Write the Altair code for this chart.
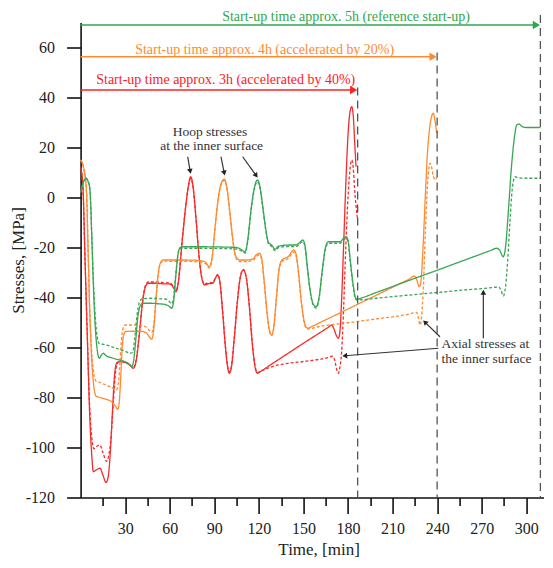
import math
import altair as alt
import pandas as pd

# ---------------- data ----------------
# Hoop stresses (solid) and axial stresses (dashed) at the inner surface
red_hoop_t = [0, 1.5, 3, 4.5, 6, 7.5, 8.6, 10.5, 13, 15, 17.1, 18.5, 20, 21.5, 23, 24.5, 26.5, 30, 33, 35.5,
              37.5, 39.5, 41.5, 43.5, 45.5, 50, 55, 60, 62.5, 64.2, 66, 68, 70.5, 72.5, 74.1, 75.8, 77.5, 79.5,
              81.5, 83.5, 86, 89, 91, 92.3, 93.8, 95.5, 97.5, 99, 100.1, 101.5, 103.5, 105.5, 107.5, 109.5,
              111.5, 113.5, 115.5, 117.5, 119, 121, 130, 140, 150, 160, 167, 169, 170.5, 172, 173.5, 174.5,
              175.7, 177, 178.5, 180, 181.3, 182.5, 183.5, 184.5, 185.4]
red_hoop_s = [12, 5, -25, -55, -85, -103, -109.7, -109, -108.3, -111, -114, -112, -102, -85, -70, -66, -65.7, -66,
              -67, -68.3, -65, -55, -43, -36, -34.3, -34.3, -34.5, -34.6, -36, -37.7, -33, -20, -5, 4.5, 8.3, 4,
              -7, -22, -32, -35, -34.5, -34.3, -32, -31, -34, -45, -60, -68, -70.3, -68, -56, -42, -32, -29, -32,
              -43, -58, -68, -70.3, -69.6, -66.1, -62.2, -58.3, -54.5, -51.8, -51, -52.5, -55, -56.3, -54, -41,
              -20, 5, 25, 34, 36.3, 33, 22, 12.3]

red_axial_t = [0, 1.5, 3, 4.5, 6, 7.5, 9, 11, 13, 15, 17.5, 19, 20.5, 22, 23.5, 25, 26.5, 30, 33, 35.5,
               37.5, 39.5, 41.5, 43.5, 45.5, 50, 55, 60, 62.5, 64.2, 66, 68, 70.5, 72.5, 74.1, 75.8, 77.5, 79.5,
               81.5, 83.5, 86, 89, 91, 92.3, 93.8, 95.5, 97.5, 99, 100.1, 101.5, 103.5, 105.5, 107.5, 109.5,
               111.5, 113.5, 115.5, 117.5, 119, 121, 130, 140, 150, 160, 167, 169.5, 171, 172.5, 173.5, 174.5,
               175.7, 177, 178.5, 180, 181.3, 182.5, 183.5, 184.5, 186.3]
red_axial_s = [12, 5, -25, -55, -82, -96, -100.5, -99.5, -99, -102, -105.5, -103, -96, -82, -70, -66, -65.5, -65.8,
               -66.8, -68, -64.5, -54.5, -42.5, -35.5, -33.8, -33.8, -34, -34.2, -35.6, -37.3, -32.5, -19.5, -4.8,
               4, 7.6, 3.5, -7.2, -22, -31.8, -34.6, -34.2, -34, -31.8, -30.8, -33.8, -44.5, -59.5, -67.5, -69.8,
               -67.6, -55.6, -41.8, -31.8, -28.8, -31.8, -42.6, -57.6, -67.5, -70, -69.5, -67.5, -66.3, -65.6,
               -64.8, -64, -63.5, -65, -69, -70.3, -68, -62, -45, -20, 0, 11, 15, 12, 3, -8.3]

orange_hoop_t = [0, 2, 4, 5, 6.3, 7.5, 9, 10.5, 12, 16, 21, 23.5, 25, 26, 27, 28, 29, 30.5, 35, 40, 44, 46,
                 47.8, 49.2, 50.5, 52, 53.5, 55.5, 60, 70, 80, 84, 86.6, 88.5, 90.5, 92.5, 94.5, 96.7, 98.5,
                 100.5, 102.5, 104.5, 107, 112, 116, 118.5, 120.3, 121.8, 123.5, 125.5, 127.3, 128.6, 130, 131.8,
                 133.5, 135.5, 137.6, 140, 142, 143.6, 145, 146.5, 148.5, 150.5, 152, 153.3, 155, 170, 190, 210,
                 222, 224.5, 226, 228, 229, 230.5, 232, 233.5, 235, 236.3, 237.4, 238.5, 239.7]
orange_hoop_s = [15, 12, 2, -20, -48, -65, -76, -79.5, -79.8, -80.5, -81.7, -83.5, -84.7, -82, -72, -60, -55, -53.6,
                 -53.5, -53.5, -54, -55.5, -56.7, -53, -43, -32, -26.5, -25, -25, -25, -25.2, -25.8, -27.7, -24, -12,
                 -1, 5.5, 7.3, 4, -6, -17, -23.5, -25, -25, -24.5, -22.8, -22.3, -24, -33, -46, -53.5, -55, -52,
                 -40, -29, -25, -24.3, -23.5, -21.8, -21, -22.5, -29, -41, -49.5, -52, -52.3, -51.8, -47.5, -41.7,
                 -35.9, -32.3, -31.4, -32.5, -35.7, -34, -20, 0, 18, 28, 32.5, 33.7, 31, 25.7]

orange_axial_t = [0, 2, 4, 5, 6.3, 7.5, 9, 10.5, 13, 17, 21, 24, 25.5, 26.5, 27.5, 28.5, 30, 35, 40, 44, 46,
                  47.8, 49.2, 50.5, 52, 53.5, 55.5, 60, 70, 80, 84, 86.6, 88.5, 90.5, 92.5, 94.5, 96.7, 98.5,
                  100.5, 102.5, 104.5, 107, 112, 116, 118.5, 120.3, 121.8, 123.5, 125.5, 127.3, 128.6, 130, 131.8,
                  133.5, 135.5, 137.6, 140, 142, 143.6, 145, 146.5, 148.5, 150.5, 152, 153.3, 160, 180, 200, 220,
                  226.2, 227.3, 228.5, 229.5, 230.8, 232, 233.5, 234.5, 235.2, 236.3, 237.5, 238.6, 239.7]
orange_axial_s = [15, 12, 2, -20, -48, -62, -71, -73.5, -74, -75, -76, -77, -74, -66, -57, -52.5, -51, -51,
                  -51.2, -51.8, -53, -54, -51, -42, -32, -26.8, -25.4, -25.5, -25.5, -25.8, -26.4, -28.2, -24.5,
                  -12.5, -1.5, 5, 6.8, 3.5, -6.5, -17.5, -24, -25.6, -25.6, -25.2, -23.5, -23, -24.6, -33.5, -46.5,
                  -54, -55.2, -52.4, -40.5, -29.5, -25.6, -25, -24.2, -22.5, -21.8, -23.2, -29.5, -41.5, -50, -52.3,
                  -52.6, -51.7, -50.1, -48.5, -46.8, -46, -48, -51, -48, -35, -15, 5, 12, 13.7, 12, 8.5, 7, 8]

green_hoop_t = [0, 1.5, 3.6, 5, 6.3, 7.5, 8.6, 9.7, 11, 12.6, 14, 15.3, 17, 22, 26, 30, 33.3, 34.4, 35.5, 37,
                38.5, 40, 42, 47, 52, 57, 59.5, 61.3, 62.5, 64, 65.5, 67, 69, 80, 95, 105, 107.3, 110.7, 112.5,
                114.5, 116.5, 119, 120.5, 122.5, 124.5, 126.5, 128.6, 131, 133, 140, 145, 147.5, 149.5, 151, 152.5,
                154.5, 156.5, 158.5, 160.5, 162.5, 164.5, 166.7, 170, 174.6, 176.8, 178.6, 180, 181.5, 183.5, 185,
                186.3, 188, 200, 220, 240, 260, 276, 280, 282, 284.5, 286, 288, 290, 291.8, 293.6, 295, 297.5,
                300.3, 305, 309.5]
green_hoop_s = [2, 5.5, 7.7, 6.5, 3, -15, -35, -50, -60, -64.3, -63, -62.3, -63.2, -64.3, -65, -65.7, -67, -67.7,
                -66, -58, -48, -43.5, -42.3, -42.3, -42.5, -42.8, -43.5, -44.3, -42, -32, -23, -20, -19.7, -19.7,
                -19.8, -20, -20.5, -21.7, -17, -6, 2.5, 7, 5, -3, -12, -18, -19, -20.7, -19.5, -19, -19, -18, -17,
                -19, -27, -37, -42.5, -43.7, -40, -30, -21, -17.7, -17.7, -17.7, -16.5, -15.7, -17, -25, -35, -40,
                -40.7, -40.4, -37.8, -33.4, -29.1, -24.7, -21.2, -20.3, -21, -23.7, -20, -5, 12, 23, 29, 29.4, 28.3,
                28, 28, 28]

green_axial_t = [0, 1.5, 3.6, 5, 6.3, 7.5, 8.6, 9.7, 11, 12.6, 15, 20, 25, 30, 33.3, 35, 36.5, 38, 39.5, 41.5,
                 47, 52, 57, 59.5, 61.3, 62.5, 64, 65.5, 67, 69, 80, 95, 105, 107.3, 110.7, 112.5, 114.5, 116.5,
                 119, 120.5, 122.5, 124.5, 126.5, 128.6, 131, 133, 140, 145, 147.5, 149.5, 151, 152.5, 154.5, 156.5,
                 158.5, 160.5, 162.5, 164.5, 166.7, 170, 174.6, 176.8, 178.6, 180, 181.5, 183.5, 185, 186.3, 200,
                 220, 240, 260, 271, 279, 281.2, 283, 284.5, 286, 287.5, 289, 290.5, 292.4, 294, 300, 309.5]
green_axial_s = [2, 5.5, 7.7, 6.5, 3, -15, -33, -46, -55, -58.5, -58.7, -59.5, -60.5, -61.5, -62.3, -62, -56, -47,
                 -42, -40.5, -40.3, -40.5, -40.6, -41.5, -42.5, -40.5, -31, -23, -20.3, -20.3, -20.3, -20.4, -20.6,
                 -21.1, -22.2, -17.6, -6.6, 1.8, 6.3, 4.4, -3.6, -12.6, -18.6, -19.6, -21.3, -20.1, -19.6, -19.6,
                 -18.6, -17.6, -19.6, -27.6, -37.6, -43, -44.2, -40.6, -30.6, -21.6, -18.3, -18.3, -18.3, -17.1,
                 -16.3, -17.6, -25.6, -35.6, -40.5, -41, -40.2, -39.1, -38, -36.9, -36.4, -35.9, -35.7, -37, -39.4,
                 -36, -25, -10, 3, 8.3, 8, 7.7, 7.7]

series_names = ["red_hoop", "red_axial", "orange_hoop", "orange_axial", "green_hoop", "green_axial"]
series_colors = ["#f72a2a", "#f72a2a", "#ff8a30", "#ff8a30", "#38a653", "#38a653"]
series_dash = [[1, 0], [3, 2], [1, 0], [3, 2], [1, 0], [3, 2]]

# axis ticks
x_major = [30, 60, 90, 120, 150, 180, 210, 240, 270, 300]
x_minor = [15, 45, 75, 105, 135, 165, 195, 225, 255, 285]

# start-up time arrows
startup_text = ["Start-up time approx. 3h (accelerated by 40%)",
                "Start-up time approx. 4h (accelerated by 20%)",
                "Start-up time approx. 5h (reference start-up)"]
startup_color = ["#ff2020", "#ff8a30", "#2fa64c"]
startup_end = [186.5, 240.0, 309.5]
startup_level = [43.0, 56.3, 69.0]
startup_text_t = [97.7, 123.9, 178.7]
startup_text_s = [47.0, 59.0, 72.4]
vline_top = [44.0, 58.0, 73.0]

# hoop / axial annotation
hoop_lines = ["Hoop stresses", "at the inner surface"]
hoop_text_t = [87.1, 88.2]
hoop_text_s = [26.3, 20.6]
hoop_x1 = [72.1, 94.5, 109.1]
hoop_y1 = [16.3, 16.3, 16.3]
hoop_x2 = [74.1, 97.1, 119.4]
hoop_y2 = [9.3, 8.6, 7.8]

axial_lines = ["Axial stresses at", "the inner surface"]
axial_text_t = [243.0, 243.0]
axial_text_s = [-58.6, -64.7]
axial_x1 = [240.8, 241.9, 271.1]
axial_y1 = [-60.3, -55.7, -56.3]
axial_x2 = [175.8, 230.3, 271.1]
axial_y2 = [-63.4, -49.0, -36.7]

# ---------------- layout constants ----------------
X_MAX = 312
PX_PER_MIN = 1.4856
PX_PER_MPA = 2.5
W = X_MAX * PX_PER_MIN
H = 190 * PX_PER_MPA
FONT = "Liberation Serif"

# ---------------- frames ----------------
rows = []
series_data = [(red_hoop_t, red_hoop_s), (red_axial_t, red_axial_s),
               (orange_hoop_t, orange_hoop_s), (orange_axial_t, orange_axial_s),
               (green_hoop_t, green_hoop_s), (green_axial_t, green_axial_s)]
for name, (ts, ss) in zip(series_names, series_data):
    for i, (t, s) in enumerate(zip(ts, ss)):
        rows.append({"series": name, "t": t, "s": s, "i": i})
df = pd.DataFrame(rows)

xs = alt.Scale(domain=[0, X_MAX], nice=False, zero=False)
ys = alt.Scale(domain=[-120, 70], nice=False, zero=False)

x_axis = alt.Axis(
    orient="bottom", values=x_major, labelExpr="'' + datum.value", tickSize=16,
    title="Time, [min]", titleX=238, titleY=52, titleBaseline="middle",
    labelPadding=7, grid=False, labelOverlap=False, labelFlush=False,
)
x_axis_minor = alt.Axis(
    orient="bottom", values=x_minor, tickSize=8, labels=False, domain=False, title=None, grid=False,
)
y_axis = alt.Axis(
    values=list(range(-120, 71, 5)),
    labelExpr="datum.value % 20 === 0 ? '' + datum.value : ''",
    tickSize={"condition": {"test": "datum.value % 10 === 0", "value": 14}, "value": 8},
    title="Stresses, [MPa]", titleX=-62, titleY=H / 2, titleBaseline="middle", titleAngle=270,
    labelPadding=12, grid=False, labelOverlap=False,
)

lines = alt.Chart(df).mark_line(strokeWidth=1.3, interpolate="monotone").encode(
    x=alt.X("t:Q", scale=xs, axis=x_axis),
    y=alt.Y("s:Q", scale=ys, axis=y_axis),
    color=alt.Color("series:N", scale=alt.Scale(domain=series_names, range=series_colors), legend=None),
    strokeDash=alt.StrokeDash("series:N", scale=alt.Scale(domain=series_names, range=series_dash), legend=None),
    order="i:Q",
)

minor = pd.DataFrame({"t": x_minor, "s": [-120.0] * len(x_minor)})
minor_layer = alt.Chart(minor).mark_point(opacity=0).encode(
    x=alt.X("t:Q", scale=xs, axis=x_axis_minor),
    y=alt.Y("s:Q", scale=ys),
)

su = pd.DataFrame({"text": startup_text, "c": startup_color, "end": startup_end, "lvl": startup_level,
                   "tt": startup_text_t, "ts": startup_text_s, "top": vline_top,
                   "start": [0.0] * 3, "bot": [-120.0] * 3})
su["head"] = su["end"] - 4.0 / PX_PER_MIN

vlines = alt.Chart(su).mark_rule(strokeDash=[8, 5], color="#555555", strokeWidth=1.3).encode(
    x=alt.X("end:Q", scale=xs, axis=None), y=alt.Y("top:Q", scale=ys), y2="bot:Q")
su_lines = alt.Chart(su).mark_rule(strokeWidth=1.3).encode(
    x=alt.X("start:Q", scale=xs, axis=None), x2="head:Q", y=alt.Y("lvl:Q", scale=ys),
    color=alt.Color("c:N", scale=None))
su_heads = alt.Chart(su).mark_point(shape="triangle-right", filled=True, size=70, opacity=1).encode(
    x=alt.X("head:Q", scale=xs, axis=None), y=alt.Y("lvl:Q", scale=ys),
    color=alt.Color("c:N", scale=None))
su_text = alt.Chart(su).mark_text(font=FONT, fontSize=14, baseline="middle").encode(
    x=alt.X("tt:Q", scale=xs, axis=None), y=alt.Y("ts:Q", scale=ys), text="text:N",
    color=alt.Color("c:N", scale=None))


def arrow_frame(x1, y1, x2, y2):
    d = pd.DataFrame({"x1": x1, "y1": y1, "x2": x2, "y2": y2})
    dxp = (d["x2"] - d["x1"]) * PX_PER_MIN
    dyp = -(d["y2"] - d["y1"]) * PX_PER_MPA
    ln = (dxp ** 2 + dyp ** 2) ** 0.5
    d["ang"] = [(math.degrees(math.atan2(a, -b)) + 360) % 360 for a, b in zip(dxp, dyp)]
    d["hx"] = d["x2"] - (dxp / ln) * 3.0 / PX_PER_MIN
    d["hy"] = d["y2"] + (dyp / ln) * 3.0 / PX_PER_MPA
    return d


arrows = pd.concat([arrow_frame(hoop_x1, hoop_y1, hoop_x2, hoop_y2),
                    arrow_frame(axial_x1, axial_y1, axial_x2, axial_y2)], ignore_index=True)
arr_lines = alt.Chart(arrows).mark_rule(color="#333333", strokeWidth=1.2).encode(
    x=alt.X("x1:Q", scale=xs, axis=None), y=alt.Y("y1:Q", scale=ys), x2="hx:Q", y2="hy:Q")
arr_heads = alt.Chart(arrows).mark_point(shape="triangle-up", filled=True, size=32, color="#222222",
                                         opacity=1).encode(
    x=alt.X("hx:Q", scale=xs, axis=None), y=alt.Y("hy:Q", scale=ys),
    angle=alt.Angle("ang:Q", scale=None))

notes = pd.DataFrame({"text": hoop_lines + axial_lines, "t": hoop_text_t + axial_text_t,
                      "s": hoop_text_s + axial_text_s})
hoop_txt = alt.Chart(notes.iloc[:2]).mark_text(font=FONT, fontSize=13.5, color="#333333",
                                               align="center", baseline="middle").encode(
    x=alt.X("t:Q", scale=xs, axis=None), y=alt.Y("s:Q", scale=ys), text="text:N")
axial_txt = alt.Chart(notes.iloc[2:]).mark_text(font=FONT, fontSize=13.5, color="#333333",
                                                align="left", baseline="middle").encode(
    x=alt.X("t:Q", scale=xs, axis=None), y=alt.Y("s:Q", scale=ys), text="text:N")

chart = alt.layer(lines, minor_layer, vlines, su_lines, su_heads, su_text, arr_lines, arr_heads,
                  hoop_txt, axial_txt).resolve_axis(x="independent").properties(
    width=W, height=H,
    padding={"left": 72.6, "top": 14.5, "right": 0, "bottom": 62},
    autosize=alt.AutoSizeParams(type="none"),
).configure_view(stroke=None).configure_axis(
    domainColor="#111111", domainWidth=1.6, tickColor="#111111", tickWidth=1.6,
    labelFont=FONT, labelFontSize=16, labelColor="#222222",
    titleFont=FONT, titleFontSize=17, titleFontWeight="normal", titleColor="#222222",
)

chart.save("out.html", embed_options={"renderer": "svg", "actions": False})
